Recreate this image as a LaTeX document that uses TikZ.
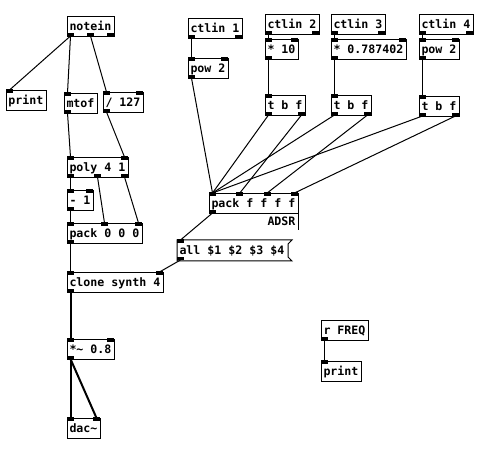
\documentclass[tikz,border=0pt]{standalone}
\usepackage{fontspec}
\newfontfamily\pdfont[WordSpace={1,0,0}]{DejaVu Sans Mono}

% inlets (top) and outlets (bottom) of a box: name, x, y, width, #in, #out
\newcommand\pdports[6]{%
  \ifnum#5>0
    \pgfmathtruncatemacro\pdn{#5-1}%
    \foreach \k in {0,...,\pdn}{%
      \ifnum#5>1 \pgfmathsetmacro\pdx{#2+\k*(#4-7)/(#5-1)}\else \def\pdx{#2}\fi
      \fill (\pdx,#3-0.5) rectangle ++(7,3.5);
      \coordinate (#1-i\k) at (\pdx+3.5,#3);
    }%
  \fi
  \ifnum#6>0
    \pgfmathtruncatemacro\pdn{#6-1}%
    \foreach \k in {0,...,\pdn}{%
      \ifnum#6>1 \pgfmathsetmacro\pdx{#2+\k*(#4-7)/(#6-1)}\else \def\pdx{#2}\fi
      \fill (\pdx,#3+20.5) rectangle ++(7,-3.5);
      \coordinate (#1-o\k) at (\pdx+3.5,#3+20);
    }%
  \fi
}

% object box: name, x, y, width, #in, #out, text
\newcommand\pdobj[7]{%
  \pgfmathsetmacro\pdtw{#4-4}%
  \node[pdbox] (#1) at (#2,#3) {\makebox[\pdtw pt][l]{#7}};
  \pdports{#1}{#2}{#3}{#4}{#5}{#6}%
}

% message box with flag edge: name, x, y, width, text
\newcommand\pdmsg[5]{%
  \pgfmathsetmacro\pdtw{#4-4}%
  \node[pdbox, draw=none] (#1) at (#2,#3) {\makebox[\pdtw pt][l]{#5}};
  \draw[line width=1pt] (#1.north west) -- ([xshift=4pt]#1.north east)
    -- ([yshift=-4pt]#1.north east) -- ([yshift=4pt]#1.south east)
    -- ([xshift=4pt]#1.south east) -- (#1.south west) -- cycle;
  \pdports{#1}{#2}{#3}{#4}{1}{1}%
}

\begin{document}
\begin{tikzpicture}[x=1pt,y=-1pt,
  pdbox/.style={draw, line width=1pt, fill=white, anchor=north west,
    inner xsep=2pt, inner ysep=0pt, minimum height=20pt,
    text height=11pt, text depth=3pt,
    font=\pdfont\bfseries\fontsize{11.6pt}{14pt}\selectfont},
  cord/.style={line width=1pt},
  sigcord/.style={line width=2pt}]
\useasboundingbox[fill=white] (0,0) rectangle (488,449);

% note input chain
\pdobj{notein}{67}{16}{47}{0}{3}{notein}
\pdobj{printa}{6}{90}{40}{1}{0}{print}
\pdobj{mtof}{64}{93}{33}{1}{1}{mtof}
\pdobj{div}{103}{92}{40}{2}{1}{/ 127}
\pdobj{poly}{67}{157}{61}{2}{3}{poly 4 1}
\pdobj{minus}{67}{190}{26}{2}{1}{- 1}
\pdobj{packa}{67}{223}{75}{3}{1}{pack 0 0 0}
\pdobj{clone}{67}{272}{96}{2}{1}{clone synth 4}
\pdobj{gain}{67}{339}{47}{2}{1}{*\textasciitilde{} 0.8}
\pdobj{dac}{67}{418}{33}{2}{0}{dac\textasciitilde}

% controllers
\pdobj{ctla}{188}{18}{54}{0}{2}{ctlin 1}
\pdobj{powa}{188}{58}{40}{2}{1}{pow 2}
\pdobj{ctlb}{265}{14}{54}{0}{2}{ctlin 2}
\pdobj{mulb}{265}{39}{33}{2}{1}{* 10}
\pdobj{ctlc}{331}{14}{54}{0}{2}{ctlin 3}
\pdobj{mulc}{331}{39}{75}{2}{1}{* 0.787402}
\pdobj{ctld}{419}{14}{54}{0}{2}{ctlin 4}
\pdobj{powd}{419}{39}{40}{2}{1}{pow 2}
\pdobj{tbfb}{265}{95}{40}{1}{2}{t b f}
\pdobj{tbfc}{331}{95}{40}{1}{2}{t b f}
\pdobj{tbfd}{419}{96}{40}{1}{2}{t b f}
\pdobj{packb}{209}{193}{89}{4}{1}{pack f f f f}
\node[pdbox, draw=none, fill=none, minimum height=16pt,
  text height=12pt, text depth=3pt] (adsr) at (265,213)
  {\makebox[28pt][l]{ADSR}};
\draw[line width=1pt] (adsr.north east) -- (adsr.south east);
\pdmsg{msg}{177}{240}{110}{all \$1 \$2 \$3 \$4}

% frequency monitor
\pdobj{rfreq}{321}{320}{47}{0}{1}{r FREQ}
\pdobj{printb}{321}{361}{40}{1}{0}{print}

% control connections
\draw[cord] (notein-o0) -- (printa-i0);
\draw[cord] (notein-o0) -- (mtof-i0);
\draw[cord] (notein-o1) -- (div-i0);
\draw[cord] (mtof-o0) -- (poly-i0);
\draw[cord] (div-o0) -- (poly-i1);
\draw[cord] (poly-o0) -- (minus-i0);
\draw[cord] (poly-o1) -- (packa-i1);
\draw[cord] (poly-o2) -- (packa-i2);
\draw[cord] (minus-o0) -- (packa-i0);
\draw[cord] (packa-o0) -- (clone-i0);
\draw[cord] (msg-o0) -- (clone-i1);
\draw[cord] (ctla-o0) -- (powa-i0);
\draw[cord] (powa-o0) -- (packb-i0);
\draw[cord] (ctlb-o0) -- (mulb-i0);
\draw[cord] (mulb-o0) -- (tbfb-i0);
\draw[cord] (ctlc-o0) -- (mulc-i0);
\draw[cord] (mulc-o0) -- (tbfc-i0);
\draw[cord] (ctld-o0) -- (powd-i0);
\draw[cord] (powd-o0) -- (tbfd-i0);
\draw[cord] (tbfb-o0) -- (packb-i0);
\draw[cord] (tbfb-o1) -- (packb-i1);
\draw[cord] (tbfc-o0) -- (packb-i0);
\draw[cord] (tbfc-o1) -- (packb-i2);
\draw[cord] (tbfd-o0) -- (packb-i0);
\draw[cord] (tbfd-o1) -- (packb-i3);
\draw[cord] (packb-o0) -- (msg-i0);
\draw[cord] (rfreq-o0) -- (printb-i0);

% audio connections
\draw[sigcord] (clone-o0) -- (gain-i0);
\draw[sigcord] (gain-o0) -- (dac-i0);
\draw[sigcord] (gain-o0) -- (dac-i1);
\end{tikzpicture}
\end{document}
